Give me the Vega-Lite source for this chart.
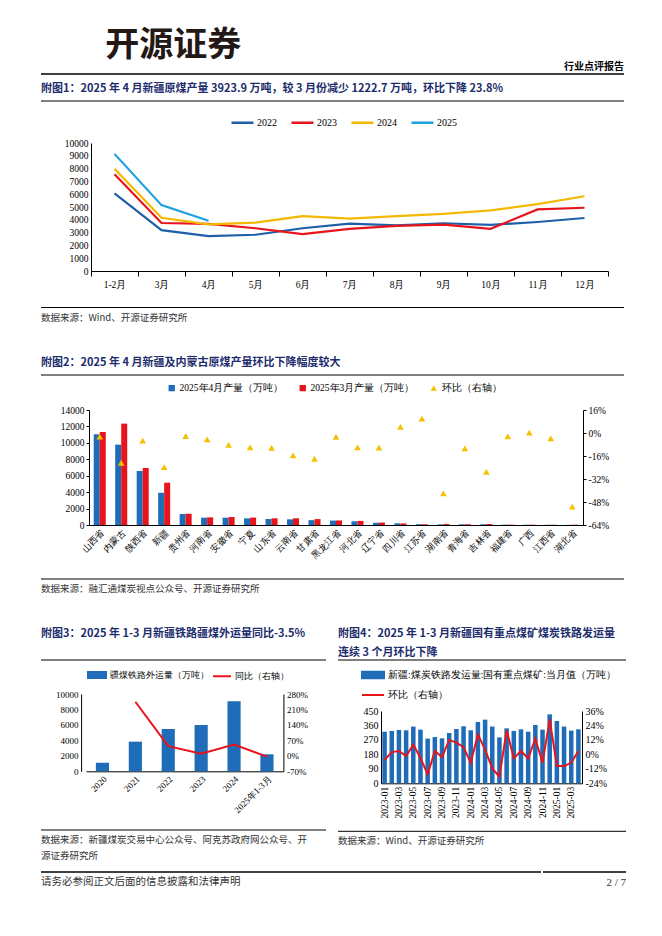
{
"$schema": "https://vega.github.io/schema/vega-lite/v6.json",
"background": "#ffffff",
"padding": {"left": 40, "top": 29, "right": 10, "bottom": 10},
"spacing": 0,
"resolve": {"scale": {"color": "independent"}, "legend": {"color": "independent"}},
"title": {"text": "开源证券", "anchor": "start", "frame": "bounds", "dx": 65, "fontSize": 34, "fontWeight": "bold", "color": "#231815", "offset": -1, "font": "Noto Sans CJK SC"},
"config": {
  "view": {"stroke": null},
  "font": "Noto Sans CJK SC",
  "title": {"font": "Noto Sans CJK SC"},
  "axis": {"grid": false, "domainColor": "#000000", "domainWidth": 1, "tickColor": "#000000", "labelColor": "#000000", "labelFont": "Liberation Serif", "labelFontSize": 9.5},
  "legend": {"labelFont": "Liberation Serif", "labelColor": "#000000", "labelFontSize": 10},
  "locale": {"number": {"decimal": ".", "thousands": ",", "grouping": [3], "currency": ["$", ""], "minus": "-"}}
},
"vconcat": [
  {"width": 583, "height": 7.6, "data": {"values": [{"line": "header"}]},
   "mark": {"type": "rule", "color": "#000000", "strokeWidth": 1.5},
   "encoding": {"y": {"datum": 1, "type": "quantitative", "scale": {"domain": [0, 1]}, "axis": null}},
   "title": {"text": "行业点评报告", "orient": "top", "anchor": "end", "frame": "group", "offset": 1, "fontSize": 10, "fontWeight": "bold", "color": "#000000"}},
  {"width": 583, "height": 9, "data": {"values": [{"line": "fig1"}]},
   "mark": {"type": "rule", "color": "#000000", "strokeWidth": 1.2},
   "encoding": {"y": {"datum": 1, "type": "quantitative", "scale": {"domain": [0, 1]}, "axis": null}},
   "title": {"text": "附图1：2025 年 4 月新疆原煤产量 3923.9 万吨，较 3 月份减少 1222.7 万吨，环比下降 23.8%", "orient": "top", "anchor": "start", "frame": "group", "offset": 6.5, "fontSize": 11, "fontWeight": "bold", "color": "#1C2C6C"}},
  {"hconcat": [
    {"width": 49.5, "height": 128, "data": {"values": []}, "mark": "point"},
    {"width": 517, "height": 128,
     "data": {"values": [
       {"m": "1-2月", "y": "2022", "v": 6060}, {"m": "3月", "y": "2022", "v": 3190}, {"m": "4月", "y": "2022", "v": 2725}, {"m": "5月", "y": "2022", "v": 2830}, {"m": "6月", "y": "2022", "v": 3340}, {"m": "7月", "y": "2022", "v": 3700}, {"m": "8月", "y": "2022", "v": 3570}, {"m": "9月", "y": "2022", "v": 3730}, {"m": "10月", "y": "2022", "v": 3600}, {"m": "11月", "y": "2022", "v": 3830}, {"m": "12月", "y": "2022", "v": 4140},
       {"m": "1-2月", "y": "2023", "v": 7560}, {"m": "3月", "y": "2023", "v": 3750}, {"m": "4月", "y": "2023", "v": 3680}, {"m": "5月", "y": "2023", "v": 3340}, {"m": "6月", "y": "2023", "v": 2880}, {"m": "7月", "y": "2023", "v": 3290}, {"m": "8月", "y": "2023", "v": 3520}, {"m": "9月", "y": "2023", "v": 3620}, {"m": "10月", "y": "2023", "v": 3290}, {"m": "11月", "y": "2023", "v": 4810}, {"m": "12月", "y": "2023", "v": 4940},
       {"m": "1-2月", "y": "2024", "v": 7990}, {"m": "3月", "y": "2024", "v": 4160}, {"m": "4月", "y": "2024", "v": 3650}, {"m": "5月", "y": "2024", "v": 3780}, {"m": "6月", "y": "2024", "v": 4290}, {"m": "7月", "y": "2024", "v": 4090}, {"m": "8月", "y": "2024", "v": 4290}, {"m": "9月", "y": "2024", "v": 4470}, {"m": "10月", "y": "2024", "v": 4730}, {"m": "11月", "y": "2024", "v": 5220}, {"m": "12月", "y": "2024", "v": 5840},
       {"m": "1-2月", "y": "2025", "v": 9150}, {"m": "3月", "y": "2025", "v": 5146.6}, {"m": "4月", "y": "2025", "v": 3923.9}
     ]},
     "mark": {"type": "line", "strokeWidth": 2.2},
     "encoding": {
       "x": {"field": "m", "type": "ordinal", "sort": ["1-2月", "3月", "4月", "5月", "6月", "7月", "8月", "9月", "10月", "11月", "12月"], "scale": {"type": "band", "paddingInner": 0, "paddingOuter": 0}, "bandPosition": 0.5,
             "axis": {"title": null, "labelAngle": 0, "tickBand": "extent", "tickSize": 5, "labelPadding": 3, "labelFontSize": 9.5}},
       "y": {"field": "v", "type": "quantitative", "scale": {"domain": [0, 10000], "nice": false},
             "axis": {"title": null, "values": [0, 1000, 2000, 3000, 4000, 5000, 6000, 7000, 8000, 9000, 10000], "format": "d", "ticks": false, "labelPadding": 3}},
       "color": {"field": "y", "type": "nominal", "scale": {"domain": ["2022", "2023", "2024", "2025"], "range": ["#1F5FA8", "#E8141B", "#F5B800", "#1BA1DF"]},
                 "legend": {"orient": "none", "legendX": 139, "legendY": -33, "direction": "horizontal", "title": null, "symbolType": "stroke", "symbolSize": 484, "symbolStrokeWidth": 2.5, "labelFontSize": 10, "columnPadding": 9, "labelOffset": 2}}
     }}
  ], "spacing": 0, "bounds": "flush", "resolve": {"scale": {"color": "independent"}, "legend": {"color": "independent"}}},
  {"width": 583, "height": 18.5, "data": {"values": [{"line": "src1"}]},
   "mark": {"type": "rule", "color": "#000000", "strokeWidth": 1},
   "encoding": {"y": {"datum": 0, "type": "quantitative", "scale": {"domain": [0, 1]}, "axis": null}},
   "title": {"text": ["数据来源：Wind、开源证券研究所", " "], "orient": "bottom", "anchor": "start", "frame": "group", "offset": 5, "fontSize": 9.5, "fontWeight": "normal", "color": "#333333", "lineHeight": 33.5}},
  {"width": 583, "height": 8, "data": {"values": [{"line": "fig2"}]},
   "mark": {"type": "rule", "color": "#000000", "strokeWidth": 1.2},
   "encoding": {"y": {"datum": 1, "type": "quantitative", "scale": {"domain": [0, 1]}, "axis": null}},
   "title": {"text": "附图2：2025 年 4 月新疆及内蒙古原煤产量环比下降幅度较大", "orient": "top", "anchor": "start", "frame": "group", "offset": 6.5, "fontSize": 11, "fontWeight": "bold", "color": "#1C2C6C"}},
  {"hconcat": [
    {"width": 48, "height": 115, "data": {"values": []}, "mark": "point"},
    {"width": 494, "height": 115,
     "layer": [
       {"data": {"values": [
          {"p": "山西省", "s": "2025年4月产量（万吨）", "v": 11040}, {"p": "内蒙古", "s": "2025年4月产量（万吨）", "v": 9780}, {"p": "陕西省", "s": "2025年4月产量（万吨）", "v": 6575}, {"p": "新疆", "s": "2025年4月产量（万吨）", "v": 3924}, {"p": "贵州省", "s": "2025年4月产量（万吨）", "v": 1340}, {"p": "河南省", "s": "2025年4月产量（万吨）", "v": 890}, {"p": "安徽省", "s": "2025年4月产量（万吨）", "v": 890}, {"p": "宁夏", "s": "2025年4月产量（万吨）", "v": 810}, {"p": "山东省", "s": "2025年4月产量（万吨）", "v": 730}, {"p": "云南省", "s": "2025年4月产量（万吨）", "v": 690}, {"p": "甘肃省", "s": "2025年4月产量（万吨）", "v": 590}, {"p": "黑龙江省", "s": "2025年4月产量（万吨）", "v": 540}, {"p": "河北省", "s": "2025年4月产量（万吨）", "v": 450}, {"p": "辽宁省", "s": "2025年4月产量（万吨）", "v": 270}, {"p": "四川省", "s": "2025年4月产量（万吨）", "v": 200}, {"p": "江苏省", "s": "2025年4月产量（万吨）", "v": 99}, {"p": "湖南省", "s": "2025年4月产量（万吨）", "v": 75}, {"p": "青海省", "s": "2025年4月产量（万吨）", "v": 80}, {"p": "吉林省", "s": "2025年4月产量（万吨）", "v": 90}, {"p": "福建省", "s": "2025年4月产量（万吨）", "v": 40}, {"p": "广西", "s": "2025年4月产量（万吨）", "v": 35}, {"p": "江西省", "s": "2025年4月产量（万吨）", "v": 30}, {"p": "湖北省", "s": "2025年4月产量（万吨）", "v": 20},
          {"p": "山西省", "s": "2025年3月产量（万吨）", "v": 11320}, {"p": "内蒙古", "s": "2025年3月产量（万吨）", "v": 12340}, {"p": "陕西省", "s": "2025年3月产量（万吨）", "v": 6940}, {"p": "新疆", "s": "2025年3月产量（万吨）", "v": 5147}, {"p": "贵州省", "s": "2025年3月产量（万吨）", "v": 1369}, {"p": "河南省", "s": "2025年3月产量（万吨）", "v": 931}, {"p": "安徽省", "s": "2025年3月产量（万吨）", "v": 970}, {"p": "宁夏", "s": "2025年3月产量（万吨）", "v": 900}, {"p": "山东省", "s": "2025年3月产量（万吨）", "v": 815}, {"p": "云南省", "s": "2025年3月产量（万吨）", "v": 817}, {"p": "甘肃省", "s": "2025年3月产量（万吨）", "v": 719}, {"p": "黑龙江省", "s": "2025年3月产量（万吨）", "v": 554}, {"p": "河北省", "s": "2025年3月产量（万吨）", "v": 500}, {"p": "辽宁省", "s": "2025年3月产量（万吨）", "v": 300}, {"p": "四川省", "s": "2025年3月产量（万吨）", "v": 192}, {"p": "江苏省", "s": "2025年3月产量（万吨）", "v": 90}, {"p": "湖南省", "s": "2025年3月产量（万吨）", "v": 130}, {"p": "青海省", "s": "2025年3月产量（万吨）", "v": 90}, {"p": "吉林省", "s": "2025年3月产量（万吨）", "v": 123}, {"p": "福建省", "s": "2025年3月产量（万吨）", "v": 41}, {"p": "广西", "s": "2025年3月产量（万吨）", "v": 35}, {"p": "江西省", "s": "2025年3月产量（万吨）", "v": 31}, {"p": "湖北省", "s": "2025年3月产量（万吨）", "v": 41}
        ]},
        "mark": {"type": "bar"},
        "encoding": {
          "x": {"field": "p", "type": "nominal", "sort": ["山西省", "内蒙古", "陕西省", "新疆", "贵州省", "河南省", "安徽省", "宁夏", "山东省", "云南省", "甘肃省", "黑龙江省", "河北省", "辽宁省", "四川省", "江苏省", "湖南省", "青海省", "吉林省", "福建省", "广西", "江西省", "湖北省"],
                "scale": {"type": "band", "paddingInner": 0.44, "paddingOuter": 0.22},
                "axis": {"title": null, "labelAngle": -45, "labelFontSize": 9, "ticks": false, "labelPadding": 3}},
          "xOffset": {"field": "s", "type": "nominal", "sort": ["2025年4月产量（万吨）", "2025年3月产量（万吨）"]},
          "y": {"field": "v", "type": "quantitative", "scale": {"domain": [0, 14000], "nice": false},
                "axis": {"title": null, "values": [0, 2000, 4000, 6000, 8000, 10000, 12000, 14000], "format": "d", "tickSize": 3, "labelPadding": 2}},
          "color": {"field": "s", "type": "nominal", "scale": {"domain": ["2025年4月产量（万吨）", "2025年3月产量（万吨）", "环比（右轴）"], "range": ["#1F6CB8", "#E8141B", "#F5C000"]},
                    "legend": {"orient": "none", "legendX": 78, "legendY": -27, "direction": "horizontal", "title": null, "symbolSize": 40, "labelFontSize": 9.5, "columnPadding": 14, "labelOffset": 3,
                               "encode": {"symbols": {"update": {"shape": {"signal": "datum.value === '环比（右轴）' ? 'triangle-up' : 'square'"}}}}}}
        }},
       {"data": {"values": [
          {"p": "山西省", "s": "环比（右轴）", "r": -0.025}, {"p": "内蒙古", "s": "环比（右轴）", "r": -0.207}, {"p": "陕西省", "s": "环比（右轴）", "r": -0.053}, {"p": "新疆", "s": "环比（右轴）", "r": -0.238}, {"p": "贵州省", "s": "环比（右轴）", "r": -0.021}, {"p": "河南省", "s": "环比（右轴）", "r": -0.044}, {"p": "安徽省", "s": "环比（右轴）", "r": -0.083}, {"p": "宁夏", "s": "环比（右轴）", "r": -0.100}, {"p": "山东省", "s": "环比（右轴）", "r": -0.104}, {"p": "云南省", "s": "环比（右轴）", "r": -0.155}, {"p": "甘肃省", "s": "环比（右轴）", "r": -0.179}, {"p": "黑龙江省", "s": "环比（右轴）", "r": -0.026}, {"p": "河北省", "s": "环比（右轴）", "r": -0.100}, {"p": "辽宁省", "s": "环比（右轴）", "r": -0.102}, {"p": "四川省", "s": "环比（右轴）", "r": 0.042}, {"p": "江苏省", "s": "环比（右轴）", "r": 0.100}, {"p": "湖南省", "s": "环比（右轴）", "r": -0.420}, {"p": "青海省", "s": "环比（右轴）", "r": -0.107}, {"p": "吉林省", "s": "环比（右轴）", "r": -0.271}, {"p": "福建省", "s": "环比（右轴）", "r": -0.023}, {"p": "广西", "s": "环比（右轴）", "r": 0.002}, {"p": "江西省", "s": "环比（右轴）", "r": -0.037}, {"p": "湖北省", "s": "环比（右轴）", "r": -0.512}
        ]},
        "mark": {"type": "point", "shape": "triangle-up", "filled": true, "size": 45, "opacity": 1},
        "encoding": {
          "x": {"field": "p", "type": "nominal", "sort": ["山西省", "内蒙古", "陕西省", "新疆", "贵州省", "河南省", "安徽省", "宁夏", "山东省", "云南省", "甘肃省", "黑龙江省", "河北省", "辽宁省", "四川省", "江苏省", "湖南省", "青海省", "吉林省", "福建省", "广西", "江西省", "湖北省"], "bandPosition": 0.5},
          "y": {"field": "r", "type": "quantitative", "scale": {"domain": [-0.64, 0.16], "nice": false},
                "axis": {"orient": "right", "title": null, "values": [-0.64, -0.48, -0.32, -0.16, 0, 0.16], "format": ".0%", "tickSize": 3, "labelPadding": 2}},
          "color": {"field": "s", "type": "nominal"}
        }}
     ],
     "resolve": {"scale": {"y": "independent"}}}
  ], "spacing": 0, "bounds": "flush", "resolve": {"scale": {"color": "independent"}, "legend": {"color": "independent"}}},
  {"width": 583, "height": 19, "data": {"values": [{"line": "src2"}]},
   "mark": {"type": "rule", "color": "#000000", "strokeWidth": 1},
   "encoding": {"y": {"datum": 0, "type": "quantitative", "scale": {"domain": [0, 1]}, "axis": null}},
   "title": {"text": ["数据来源：融汇通煤炭视点公众号、开源证券研究所", " "], "orient": "bottom", "anchor": "start", "frame": "group", "offset": 4.5, "fontSize": 9.5, "fontWeight": "normal", "color": "#333333", "lineHeight": 33.5}},
  {"hconcat": [
    {"vconcat": [
      {"width": 285, "height": 4.5, "data": {"values": [{"line": "fig3"}]},
       "mark": {"type": "rule", "color": "#000000", "strokeWidth": 1.2},
       "encoding": {"y": {"datum": 1, "type": "quantitative", "scale": {"domain": [0, 1]}, "axis": null}},
       "title": {"text": "附图3：2025 年 1-3 月新疆铁路疆煤外运量同比-3.5%", "orient": "top", "anchor": "start", "frame": "group", "offset": 20.5, "fontSize": 11, "fontWeight": "bold", "color": "#1C2C6C"}},
      {"hconcat": [
        {"width": 44.9, "height": 77.3, "data": {"values": []}, "mark": "point"},
        {"width": 197.4, "height": 77.3,
         "layer": [
           {"data": {"values": [
              {"yr": "2020", "s": "疆煤铁路外运量（万吨）", "v": 1120}, {"yr": "2021", "s": "疆煤铁路外运量（万吨）", "v": 3836}, {"yr": "2022", "s": "疆煤铁路外运量（万吨）", "v": 5474}, {"yr": "2023", "s": "疆煤铁路外运量（万吨）", "v": 5991}, {"yr": "2024", "s": "疆煤铁路外运量（万吨）", "v": 9052}, {"yr": "2025年1-3月", "s": "疆煤铁路外运量（万吨）", "v": 2198}
            ]},
            "mark": {"type": "bar"},
            "encoding": {
              "x": {"field": "yr", "type": "nominal", "sort": ["2020", "2021", "2022", "2023", "2024", "2025年1-3月"], "scale": {"type": "band", "paddingInner": 0.6, "paddingOuter": 0.3},
                    "axis": {"title": null, "labelAngle": -45, "labelFontSize": 9, "ticks": false, "labelPadding": 3}},
              "y": {"field": "v", "type": "quantitative", "scale": {"domain": [0, 10000], "nice": false},
                    "axis": {"title": null, "values": [0, 2000, 4000, 6000, 8000, 10000], "format": "d", "ticks": false, "offset": 4.9, "labelFontSize": 9, "labelPadding": 3}},
              "color": {"field": "s", "type": "nominal", "scale": {"domain": ["疆煤铁路外运量（万吨）", "同比（右轴）"], "range": ["#1F6CB8", "#E8141B"]},
                        "legend": {"orient": "none", "legendX": 1, "legendY": -29, "direction": "horizontal", "title": null, "symbolSize": 324, "labelFontSize": 8.5, "columnPadding": 0, "labelOffset": 3,
                                   "encode": {"symbols": {"update": {
                                     "shape": {"signal": "datum.value === '同比（右轴）' ? 'stroke' : 'M-1,-0.33H1V0.33H-1Z'"},
                                     "stroke": {"signal": "datum.value === '同比（右轴）' ? '#E8141B' : 'transparent'"},
                                     "fill": {"signal": "datum.value === '同比（右轴）' ? 'transparent' : '#1F6CB8'"},
                                     "strokeWidth": {"value": 2}}}}}}
            }},
           {"data": {"values": [
              {"yr": "2021", "s": "同比（右轴）", "r": 2.45}, {"yr": "2022", "s": "同比（右轴）", "r": 0.44}, {"yr": "2023", "s": "同比（右轴）", "r": 0.10}, {"yr": "2024", "s": "同比（右轴）", "r": 0.51}, {"yr": "2025年1-3月", "s": "同比（右轴）", "r": -0.035}
            ]},
            "mark": {"type": "line", "strokeWidth": 2},
            "encoding": {
              "x": {"field": "yr", "type": "nominal", "sort": ["2020", "2021", "2022", "2023", "2024", "2025年1-3月"], "bandPosition": 0.5},
              "y": {"field": "r", "type": "quantitative", "scale": {"domain": [-0.7, 2.8], "nice": false},
                    "axis": {"orient": "right", "title": null, "values": [-0.7, 0, 0.7, 1.4, 2.1, 2.8], "format": ".0%", "ticks": false, "labelFontSize": 9, "labelPadding": 3}},
              "color": {"field": "s", "type": "nominal"}
            }}
         ],
         "resolve": {"scale": {"y": "independent"}}}
      ], "spacing": 0, "bounds": "flush", "resolve": {"scale": {"color": "independent"}, "legend": {"color": "independent"}}},
      {"width": 285, "height": 15, "data": {"values": [{"line": "src3"}]},
       "mark": {"type": "rule", "color": "#000000", "strokeWidth": 1},
       "encoding": {"y": {"datum": 0, "type": "quantitative", "scale": {"domain": [0, 1]}, "axis": null}},
       "title": {"text": ["数据来源：新疆煤炭交易中心公众号、阿克苏政府网公众号、开", "源证券研究所"], "orient": "bottom", "anchor": "start", "frame": "group", "offset": 4.5, "fontSize": 9.5, "fontWeight": "normal", "color": "#333333", "lineHeight": 16}}
    ], "spacing": 0, "resolve": {"scale": {"color": "independent"}, "legend": {"color": "independent"}}},
    {"vconcat": [
      {"width": 288, "height": 3, "data": {"values": [{"line": "fig4"}]},
       "mark": {"type": "rule", "color": "#000000", "strokeWidth": 1.2},
       "encoding": {"y": {"datum": 1, "type": "quantitative", "scale": {"domain": [0, 1]}, "axis": null}},
       "title": {"text": ["附图4：2025 年 1-3 月新疆国有重点煤矿煤炭铁路发运量", "连续 3 个月环比下降"], "orient": "top", "anchor": "start", "frame": "group", "offset": 1.5, "fontSize": 11, "fontWeight": "bold", "color": "#1C2C6C", "lineHeight": 19}},
      {"hconcat": [
        {"width": 43, "height": 72.3, "data": {"values": []}, "mark": "point"},
        {"width": 201, "height": 72.3,
         "layer": [
           {"data": {"values": [
              {"m": "2023-01", "v": 321}, {"m": "2023-02", "v": 326}, {"m": "2023-03", "v": 332}, {"m": "2023-04", "v": 330}, {"m": "2023-05", "v": 353}, {"m": "2023-06", "v": 334}, {"m": "2023-07", "v": 278}, {"m": "2023-08", "v": 288}, {"m": "2023-09", "v": 280}, {"m": "2023-10", "v": 313}, {"m": "2023-11", "v": 338}, {"m": "2023-12", "v": 355},
              {"m": "2024-01", "v": 330}, {"m": "2024-02", "v": 382}, {"m": "2024-03", "v": 396}, {"m": "2024-04", "v": 353}, {"m": "2024-05", "v": 286}, {"m": "2024-06", "v": 342}, {"m": "2024-07", "v": 326}, {"m": "2024-08", "v": 336}, {"m": "2024-09", "v": 321}, {"m": "2024-10", "v": 363}, {"m": "2024-11", "v": 334}, {"m": "2024-12", "v": 429},
              {"m": "2025-01", "v": 388}, {"m": "2025-02", "v": 353}, {"m": "2025-03", "v": 328}, {"m": "2025-04", "v": 336}
            ]},
            "transform": [{"calculate": "'新疆:煤炭铁路发运量:国有重点煤矿:当月值（万吨）'", "as": "s"}],
            "mark": {"type": "bar"},
            "encoding": {
              "x": {"field": "m", "type": "ordinal", "scale": {"type": "band", "paddingInner": 0.37, "paddingOuter": 0.185},
                    "axis": {"title": null, "labelAngle": -90, "labelFontSize": 9.5, "ticks": false, "labelPadding": 3,
                             "values": ["2023-01", "2023-03", "2023-05", "2023-07", "2023-09", "2023-11", "2024-01", "2024-03", "2024-05", "2024-07", "2024-09", "2024-11", "2025-01", "2025-03"]}},
              "y": {"field": "v", "type": "quantitative", "scale": {"domain": [0, 450], "nice": false},
                    "axis": {"title": null, "values": [0, 90, 180, 270, 360, 450], "format": "d", "ticks": false, "labelFontSize": 10, "labelPadding": 3}},
              "color": {"field": "s", "type": "nominal", "scale": {"domain": ["新疆:煤炭铁路发运量:国有重点煤矿:当月值（万吨）", "环比（右轴）"], "range": ["#1F6CB8", "#E8141B"]},
                        "legend": {"orient": "none", "legendX": -20, "legendY": -48, "direction": "vertical", "title": null, "symbolSize": 484, "labelFontSize": 9.5, "rowPadding": -10, "labelOffset": 3, "labelLimit": 300,
                                   "encode": {"symbols": {"update": {
                                     "shape": {"signal": "datum.value === '环比（右轴）' ? 'stroke' : 'M-1,-0.3H1V0.3H-1Z'"},
                                     "stroke": {"signal": "datum.value === '环比（右轴）' ? '#E8141B' : 'transparent'"},
                                     "fill": {"signal": "datum.value === '环比（右轴）' ? 'transparent' : '#1F6CB8'"},
                                     "strokeWidth": {"value": 2}}}}}}
            }},
           {"data": {"values": [
              {"m": "2023-01", "r": -0.047}, {"m": "2023-02", "r": 0.019}, {"m": "2023-03", "r": 0.028}, {"m": "2023-04", "r": -0.014}, {"m": "2023-05", "r": 0.08}, {"m": "2023-06", "r": -0.03}, {"m": "2023-07", "r": -0.166}, {"m": "2023-08", "r": 0.028}, {"m": "2023-09", "r": -0.022}, {"m": "2023-10", "r": 0.12}, {"m": "2023-11", "r": 0.097}, {"m": "2023-12", "r": 0.06},
              {"m": "2024-01", "r": -0.07}, {"m": "2024-02", "r": 0.166}, {"m": "2024-03", "r": 0.04}, {"m": "2024-04", "r": -0.116}, {"m": "2024-05", "r": -0.185}, {"m": "2024-06", "r": 0.20}, {"m": "2024-07", "r": -0.033}, {"m": "2024-08", "r": 0.028}, {"m": "2024-09", "r": -0.033}, {"m": "2024-10", "r": 0.13}, {"m": "2024-11", "r": -0.07}, {"m": "2024-12", "r": 0.29},
              {"m": "2025-01", "r": -0.097}, {"m": "2025-02", "r": -0.097}, {"m": "2025-03", "r": -0.07}, {"m": "2025-04", "r": 0.028}
            ]},
            "transform": [{"calculate": "'环比（右轴）'", "as": "s"}],
            "mark": {"type": "line", "strokeWidth": 2},
            "encoding": {
              "x": {"field": "m", "type": "ordinal", "bandPosition": 0.5},
              "y": {"field": "r", "type": "quantitative", "scale": {"domain": [-0.24, 0.36], "nice": false},
                    "axis": {"orient": "right", "title": null, "values": [-0.24, -0.12, 0, 0.12, 0.24, 0.36], "format": ".0%", "ticks": false, "labelFontSize": 10, "labelPadding": 3}},
              "color": {"field": "s", "type": "nominal"}
            }}
         ],
         "resolve": {"scale": {"y": "independent"}}}
      ], "spacing": 0, "bounds": "flush", "resolve": {"scale": {"color": "independent"}, "legend": {"color": "independent"}}},
      {"width": 288, "height": 13.3, "data": {"values": [{"line": "src4"}]},
       "mark": {"type": "rule", "color": "#000000", "strokeWidth": 1},
       "encoding": {"y": {"datum": 0, "type": "quantitative", "scale": {"domain": [0, 1]}, "axis": null}},
       "title": {"text": "数据来源：Wind、开源证券研究所", "orient": "bottom", "anchor": "start", "frame": "group", "offset": 4.5, "fontSize": 9.5, "fontWeight": "normal", "color": "#333333"}}
    ], "spacing": 0, "resolve": {"scale": {"color": "independent"}, "legend": {"color": "independent"}}}
  ], "spacing": 10, "resolve": {"scale": {"color": "independent"}, "legend": {"color": "independent"}}},
  {"hconcat": [
    {"width": 500, "height": 11, "data": {"values": [{"line": "footer"}]},
     "mark": {"type": "rule", "color": "#000000", "strokeWidth": 1.5},
     "encoding": {"y": {"datum": 0, "type": "quantitative", "scale": {"domain": [0, 1]}, "axis": null}},
     "title": {"text": "请务必参阅正文后面的信息披露和法律声明", "orient": "bottom", "anchor": "start", "frame": "group", "offset": 4, "fontSize": 10.5, "fontWeight": "normal", "color": "#333333"}},
    {"width": 83, "height": 11, "data": {"values": [{"line": "footer2"}]},
     "mark": {"type": "rule", "color": "#000000", "strokeWidth": 1.5},
     "encoding": {"y": {"datum": 0, "type": "quantitative", "scale": {"domain": [0, 1]}, "axis": null}},
     "title": {"text": "2 / 7", "orient": "bottom", "anchor": "end", "frame": "group", "offset": 4, "fontSize": 11, "fontWeight": "normal", "color": "#333333", "font": "Liberation Serif"}}
  ], "spacing": 0}
]
}
